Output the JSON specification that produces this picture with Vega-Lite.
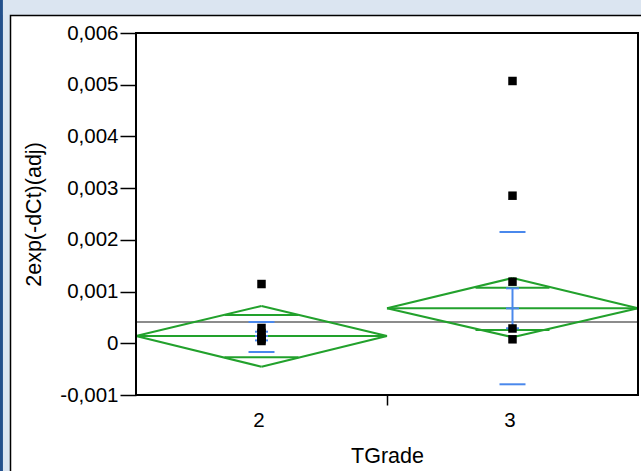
{
  "$schema": "https://vega.github.io/schema/vega-lite/v6.json",
  "autosize": "none",
  "width": 502,
  "height": 362,
  "padding": {"left": 136, "top": 33, "right": 3, "bottom": 76},
  "background": "#ffffff",
  "config": {
    "view": {"stroke": null},
    "font": "Liberation Sans",
    "axis": {
      "zindex": 1,
      "domain": false,
      "grid": false,
      "labelFont": "Liberation Sans",
      "labelFontSize": 20.5,
      "labelColor": "#000000",
      "titleFont": "Liberation Sans",
      "titleFontSize": 21.5,
      "titleFontWeight": "normal",
      "titleColor": "#000000",
      "tickColor": "#000000",
      "tickWidth": 1.5
    }
  },
  "datasets": {
    "observations": [
      {"TGrade": 2, "value": 0.001146},
      {"TGrade": 2, "value": 0.000296},
      {"TGrade": 2, "value": 0.000200},
      {"TGrade": 2, "value": 0.000122},
      {"TGrade": 2, "value": 0.000080},
      {"TGrade": 2, "value": 0.000044},
      {"TGrade": 3, "value": 0.005072},
      {"TGrade": 3, "value": 0.002854},
      {"TGrade": 3, "value": 0.001191},
      {"TGrade": 3, "value": 0.000286},
      {"TGrade": 3, "value": 0.000077}
    ],
    "group_stats": [
      {"TGrade": 2, "mean": 0.000141, "lower95": -0.000453, "upper95": 0.000721, "overlap_lo": -0.000271, "overlap_hi": 0.000547, "sd_lo": -0.000169, "sd_hi": 0.000412, "se_lo": 0.000056, "se_hi": 0.000224},
      {"TGrade": 3, "mean": 0.000676, "lower95": 0.000118, "upper95": 0.001262, "overlap_lo": 0.000257, "overlap_hi": 0.001075, "sd_lo": -0.000793, "sd_hi": 0.002152, "se_lo": 0.000290, "se_hi": 0.001063}
    ],
    "grand_mean": [{"value": 0.000412}]
  },
  "layer": [
    {
      "description": "window outline: dark edge on the left",
      "data": {"values": [{}]},
      "mark": {"type": "rect", "fill": "#23508c", "stroke": null},
      "encoding": {
        "x": {"datum": 0.9, "type": "quantitative", "scale": {"domain": [1.5, 3.5]}, "title": "TGrade"},
        "x2": {"datum": 0.97},
        "y": {"datum": 0.01, "type": "quantitative", "scale": {"domain": [-0.001, 0.006]}, "title": "2exp(-dCt)(adj)"},
        "y2": {"datum": -0.004}
      }
    },
    {
      "description": "window outline: light band along the top",
      "data": {"values": [{}]},
      "mark": {"type": "rect", "fill": "#dbe5f1", "stroke": null},
      "encoding": {
        "x": {"datum": 0.97, "type": "quantitative", "scale": {"domain": [1.5, 3.5]}, "title": "TGrade"},
        "x2": {"datum": 4},
        "y": {"datum": 0.01, "type": "quantitative", "scale": {"domain": [-0.001, 0.006]}, "title": "2exp(-dCt)(adj)"},
        "y2": {"datum": 0.00634}
      }
    },
    {
      "description": "window outline: light strip on the left",
      "data": {"values": [{}]},
      "mark": {"type": "rect", "fill": "#dbe5f1", "stroke": null},
      "encoding": {
        "x": {"datum": 0.97, "type": "quantitative", "scale": {"domain": [1.5, 3.5]}, "title": "TGrade"},
        "x2": {"datum": 1.0},
        "y": {"datum": 0.01, "type": "quantitative", "scale": {"domain": [-0.001, 0.006]}, "title": "2exp(-dCt)(adj)"},
        "y2": {"datum": -0.004}
      }
    },
    {
      "description": "report panel border",
      "data": {"values": [{}]},
      "mark": {"type": "rect", "fill": null, "stroke": "#000000", "strokeWidth": 1.5},
      "encoding": {
        "x": {"datum": 1.0, "type": "quantitative", "scale": {"domain": [1.5, 3.5]}, "title": "TGrade"},
        "x2": {"datum": 4},
        "y": {"datum": 0.00634, "type": "quantitative", "scale": {"domain": [-0.001, 0.006]}, "title": "2exp(-dCt)(adj)"},
        "y2": {"datum": -0.004}
      }
    },
    {
      "description": "grand mean",
      "data": {"name": "grand_mean"},
      "mark": {"type": "rule", "color": "#8c8c8c", "strokeWidth": 2},
      "encoding": {
        "y": {"field": "value", "type": "quantitative", "scale": {"domain": [-0.001, 0.006]}, "title": "2exp(-dCt)(adj)"}
      }
    },
    {
      "description": "means diamonds",
      "data": {"name": "group_stats"},
      "transform": [
        {"calculate": "datum.TGrade - 0.5", "as": "x_left"},
        {"calculate": "datum.TGrade + 0.5", "as": "x_right"}
      ],
      "layer": [
        {
          "mark": {"type": "rule", "color": "#22a12c", "strokeWidth": 2},
          "encoding": {
            "x": {"field": "x_left", "type": "quantitative", "scale": {"domain": [1.5, 3.5]}, "title": "TGrade"},
            "x2": {"field": "TGrade"},
            "y": {"field": "mean", "type": "quantitative", "scale": {"domain": [-0.001, 0.006]}, "title": "2exp(-dCt)(adj)"},
            "y2": {"field": "upper95"}
          }
        },
        {
          "mark": {"type": "rule", "color": "#22a12c", "strokeWidth": 2},
          "encoding": {
            "x": {"field": "TGrade", "type": "quantitative", "scale": {"domain": [1.5, 3.5]}, "title": "TGrade"},
            "x2": {"field": "x_right"},
            "y": {"field": "upper95", "type": "quantitative", "scale": {"domain": [-0.001, 0.006]}, "title": "2exp(-dCt)(adj)"},
            "y2": {"field": "mean"}
          }
        },
        {
          "mark": {"type": "rule", "color": "#22a12c", "strokeWidth": 2},
          "encoding": {
            "x": {"field": "x_left", "type": "quantitative", "scale": {"domain": [1.5, 3.5]}, "title": "TGrade"},
            "x2": {"field": "TGrade"},
            "y": {"field": "mean", "type": "quantitative", "scale": {"domain": [-0.001, 0.006]}, "title": "2exp(-dCt)(adj)"},
            "y2": {"field": "lower95"}
          }
        },
        {
          "mark": {"type": "rule", "color": "#22a12c", "strokeWidth": 2},
          "encoding": {
            "x": {"field": "TGrade", "type": "quantitative", "scale": {"domain": [1.5, 3.5]}, "title": "TGrade"},
            "x2": {"field": "x_right"},
            "y": {"field": "lower95", "type": "quantitative", "scale": {"domain": [-0.001, 0.006]}, "title": "2exp(-dCt)(adj)"},
            "y2": {"field": "mean"}
          }
        },
        {
          "mark": {"type": "rule", "color": "#22a12c", "strokeWidth": 2},
          "encoding": {
            "x": {"field": "x_left", "type": "quantitative", "scale": {"domain": [1.5, 3.5]}, "title": "TGrade"},
            "x2": {"field": "x_right"},
            "y": {"field": "mean", "type": "quantitative", "scale": {"domain": [-0.001, 0.006]}, "title": "2exp(-dCt)(adj)"}
          }
        },
        {
          "mark": {"type": "tick", "orient": "horizontal", "color": "#22a12c", "size": 74, "thickness": 2, "opacity": 1},
          "encoding": {
            "x": {"field": "TGrade", "type": "quantitative", "scale": {"domain": [1.5, 3.5]}, "title": "TGrade"},
            "y": {"field": "overlap_hi", "type": "quantitative", "scale": {"domain": [-0.001, 0.006]}, "title": "2exp(-dCt)(adj)"}
          }
        },
        {
          "mark": {"type": "tick", "orient": "horizontal", "color": "#22a12c", "size": 74, "thickness": 2, "opacity": 1},
          "encoding": {
            "x": {"field": "TGrade", "type": "quantitative", "scale": {"domain": [1.5, 3.5]}, "title": "TGrade"},
            "y": {"field": "overlap_lo", "type": "quantitative", "scale": {"domain": [-0.001, 0.006]}, "title": "2exp(-dCt)(adj)"}
          }
        }
      ]
    },
    {
      "description": "standard deviation lines and mean error bars",
      "data": {"name": "group_stats"},
      "layer": [
        {
          "mark": {"type": "tick", "orient": "horizontal", "color": "#4a88ec", "size": 26, "thickness": 2, "opacity": 1},
          "encoding": {
            "x": {"field": "TGrade", "type": "quantitative", "scale": {"domain": [1.5, 3.5]}, "title": "TGrade"},
            "y": {"field": "sd_hi", "type": "quantitative", "scale": {"domain": [-0.001, 0.006]}, "title": "2exp(-dCt)(adj)"}
          }
        },
        {
          "mark": {"type": "tick", "orient": "horizontal", "color": "#4a88ec", "size": 26, "thickness": 2, "opacity": 1},
          "encoding": {
            "x": {"field": "TGrade", "type": "quantitative", "scale": {"domain": [1.5, 3.5]}, "title": "TGrade"},
            "y": {"field": "sd_lo", "type": "quantitative", "scale": {"domain": [-0.001, 0.006]}, "title": "2exp(-dCt)(adj)"}
          }
        },
        {
          "mark": {"type": "rule", "color": "#4a88ec", "strokeWidth": 2},
          "encoding": {
            "x": {"field": "TGrade", "type": "quantitative", "scale": {"domain": [1.5, 3.5]}, "title": "TGrade"},
            "y": {"field": "se_lo", "type": "quantitative", "scale": {"domain": [-0.001, 0.006]}, "title": "2exp(-dCt)(adj)"},
            "y2": {"field": "se_hi"}
          }
        },
        {
          "mark": {"type": "tick", "orient": "horizontal", "color": "#4a88ec", "size": 13, "thickness": 2, "opacity": 1},
          "encoding": {
            "x": {"field": "TGrade", "type": "quantitative", "scale": {"domain": [1.5, 3.5]}, "title": "TGrade"},
            "y": {"field": "se_hi", "type": "quantitative", "scale": {"domain": [-0.001, 0.006]}, "title": "2exp(-dCt)(adj)"}
          }
        },
        {
          "mark": {"type": "tick", "orient": "horizontal", "color": "#4a88ec", "size": 13, "thickness": 2, "opacity": 1},
          "encoding": {
            "x": {"field": "TGrade", "type": "quantitative", "scale": {"domain": [1.5, 3.5]}, "title": "TGrade"},
            "y": {"field": "mean", "type": "quantitative", "scale": {"domain": [-0.001, 0.006]}, "title": "2exp(-dCt)(adj)"}
          }
        },
        {
          "mark": {"type": "tick", "orient": "horizontal", "color": "#4a88ec", "size": 13, "thickness": 2, "opacity": 1},
          "encoding": {
            "x": {"field": "TGrade", "type": "quantitative", "scale": {"domain": [1.5, 3.5]}, "title": "TGrade"},
            "y": {"field": "se_lo", "type": "quantitative", "scale": {"domain": [-0.001, 0.006]}, "title": "2exp(-dCt)(adj)"}
          }
        }
      ]
    },
    {
      "description": "individual observations",
      "data": {"name": "observations"},
      "mark": {"type": "point", "shape": "square", "filled": true, "size": 72, "color": "#000000", "opacity": 1},
      "encoding": {
        "x": {
          "field": "TGrade", "type": "quantitative",
          "scale": {"domain": [1.5, 3.5]},
          "title": "TGrade",
          "axis": {
            "zindex": 1,
            "values": [2, 2.5, 3],
            "labelExpr": "datum.value == 2 ? '2' : datum.value == 3 ? '3' : ''",
            "tickSize": 10,
            "tickOpacity": {"condition": {"test": "datum.value == 2.5", "value": 1}, "value": 0},
            "labelPadding": 5,
            "labelOffset": -3,
            "titlePadding": 15
          }
        },
        "y": {
          "field": "value", "type": "quantitative",
          "scale": {"domain": [-0.001, 0.006]},
          "title": "2exp(-dCt)(adj)",
          "axis": {
            "zindex": 1,
            "values": [-0.001, 0, 0.001, 0.002, 0.003, 0.004, 0.005, 0.006],
            "labelExpr": "datum.value == 0 ? '0' : (datum.value < 0 ? '-' : '') + replace(format(abs(datum.value), '.3f'), '.', ',')",
            "tickSize": 16,
            "labelPadding": 2,
            "titlePadding": 14
          }
        }
      }
    },
    {
      "description": "plot frame around the data range",
      "data": {"values": [{}]},
      "mark": {"type": "rect", "fill": null, "stroke": "#000000", "strokeWidth": 2},
      "encoding": {
        "x": {"datum": 1.5, "type": "quantitative", "scale": {"domain": [1.5, 3.5]}, "title": "TGrade"},
        "x2": {"datum": 3.5},
        "y": {"datum": -0.001, "type": "quantitative", "scale": {"domain": [-0.001, 0.006]}, "title": "2exp(-dCt)(adj)"},
        "y2": {"datum": 0.006}
      }
    }
  ]
}
